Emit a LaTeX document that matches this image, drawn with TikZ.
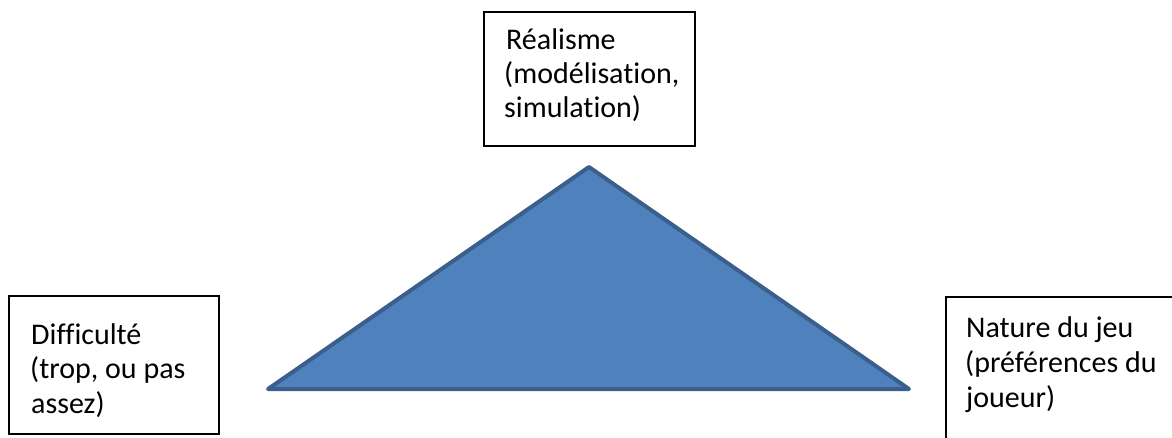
\documentclass[tikz,border=0pt]{standalone}
\usepackage{fontspec}
\setmainfont{Carlito}[Ligatures=NoCommon]
\begin{document}
\begin{tikzpicture}[x=1pt,y=-1pt,
  box/.style={draw=black,line width=1.6pt,fill=white},
  lbl/.style={anchor=base west,inner sep=0pt,font=\fontsize{30}{34}\selectfont},
  tri/.style={fill=triFill,draw=triLine,line width=4pt,line join=round}]
\definecolor{triFill}{HTML}{4F81BD}
\definecolor{triLine}{HTML}{3A5F8C}
\useasboundingbox (0,0) rectangle (1172,437);
% triangle
\coordinate (apex) at (589,167);
\coordinate (bl) at (268,389);
\coordinate (br) at (909,389);
\draw[tri] (apex) -- (br) -- (bl) -- cycle;
% boxes
\draw[box] (484,12) rectangle (695,146);
\draw[box] (9,296) rectangle (219,434);
\draw[box] (946,297) rectangle (1180,445);
\node[lbl] (t1) at (506,49) {Réalisme};
\node[lbl] (t2) at (504,83) {(modélisation,};
\node[lbl] (t3) at (504,117) {simulation)};
\node[lbl] (l1) at (31,344) {Difficulté};
\node[lbl] (l2) at (30,378) {(trop, ou pas};
\node[lbl] (l3) at (31,413) {assez)};
\node[lbl] (r1) at (966,337) {Nature du jeu};
\node[lbl] (r2) at (965,372) {(préférences du};
\node[lbl] (r3) at (966,407) {joueur)};
\end{tikzpicture}
\end{document}
